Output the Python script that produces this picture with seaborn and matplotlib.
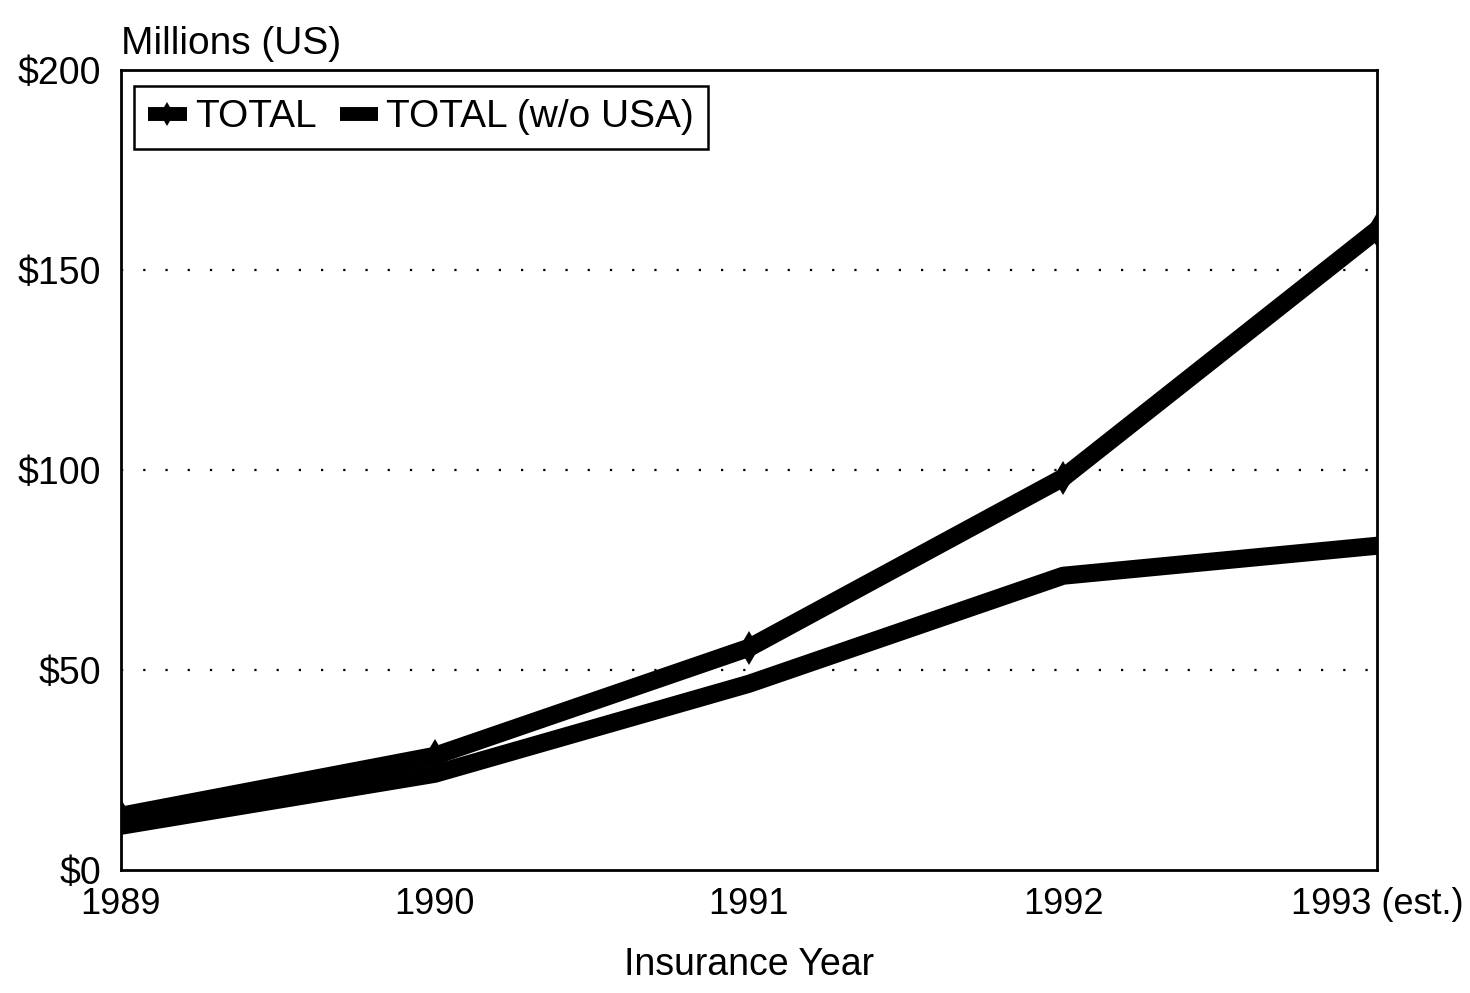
import numpy as np
import pandas as pd
import matplotlib
matplotlib.use('Agg')
import matplotlib.pyplot as plt
import seaborn as sns

# ============================================================
# DATA (millions US$)
# ============================================================

years = [1989, 1990, 1991, 1992, 1993]
year_labels = ['1989', '1990', '1991', '1992', '1993 (est.)']
total = [13.5, 28.5, 55.5, 98, 160]
total_wo_usa = [11, 24, 46.5, 73.5, 81]
y_ticks = [0, 50, 100, 150, 200]

df = pd.DataFrame({
    'year': years * 2,
    'value': total + total_wo_usa,
    'series': ['TOTAL'] * len(years) + ['TOTAL (w/o USA)'] * len(years),
})

# ============================================================
# PLOT
# ============================================================

sns.set_style('white')
plt.rcParams['font.family'] = ['Liberation Sans', 'DejaVu Sans']
plt.rcParams['text.color'] = 'black'
plt.rcParams['axes.labelcolor'] = 'black'

fig = plt.figure(figsize=(14.7, 9.93), dpi=100)
ax = fig.add_axes([0.082, 0.124, 0.855, 0.806])

sns.lineplot(data=df[df.series == 'TOTAL'], x='year', y='value',
             color='black', linewidth=13, marker='d', markersize=17,
             markeredgewidth=0, label='TOTAL', ax=ax)
sns.lineplot(data=df[df.series == 'TOTAL (w/o USA)'], x='year', y='value',
             color='black', linewidth=13, label='TOTAL (w/o USA)', ax=ax)

ax.set_xlim(years[0], years[-1])
ax.set_ylim(0, 200)
ax.set_yticks(y_ticks)
ax.set_yticklabels([f'${v}' for v in y_ticks])
ax.set_xticks(years)
ax.set_xticklabels(year_labels)
ax.tick_params(axis='y', length=0, labelsize=27, colors='black', pad=14)
ax.tick_params(axis='x', length=0, labelsize=26, colors='black', pad=12)

# dotted gridlines only for inner values
for v in y_ticks[1:-1]:
    ax.axhline(v, color='black', linewidth=1.6, linestyle=(0, (1, 9)), zorder=0)

for s in ax.spines.values():
    s.set_visible(True)
    s.set_color('black')
    s.set_linewidth(2)

ax.set_xlabel('Insurance Year', fontsize=27, labelpad=18, color='black')
ax.set_ylabel('')
ax.text(0.0, 1.01, 'Millions (US)', transform=ax.transAxes,
        ha='left', va='bottom', fontsize=28, color='black')

leg = ax.legend(loc='upper left', bbox_to_anchor=(0.011, 0.98), ncol=2,
                fontsize=28, frameon=True, fancybox=False, framealpha=1,
                handlelength=1.0, handletextpad=0.2, columnspacing=0.6,
                borderpad=0.35, borderaxespad=0, labelcolor='black')
leg.get_frame().set_edgecolor('black')
leg.get_frame().set_linewidth(1.8)
for h in leg.get_lines():
    h.set_linewidth(10)
    h.set_solid_capstyle('butt')
    h.set_markersize(12)

fig.savefig('out.png', dpi=100)
plt.close(fig)
